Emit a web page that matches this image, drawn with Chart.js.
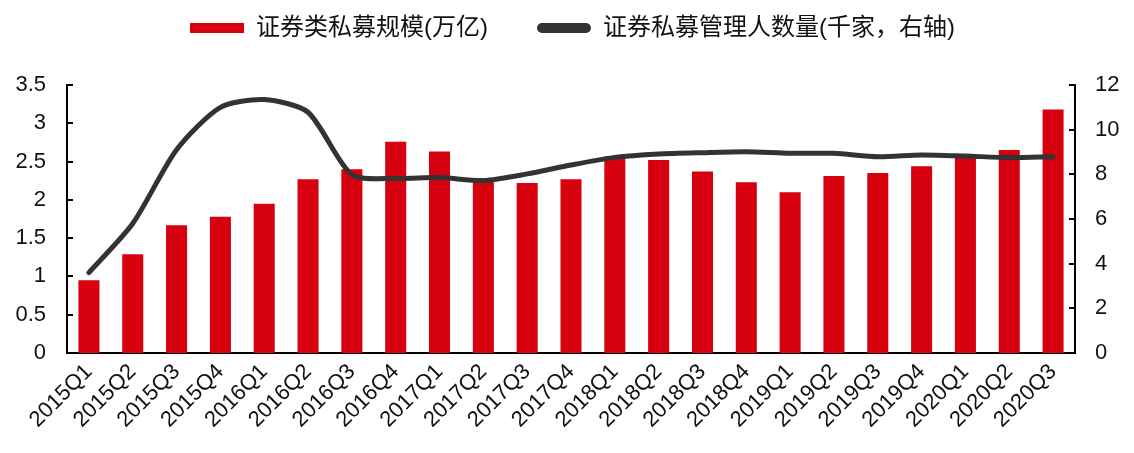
<!DOCTYPE html>
<html><head><meta charset="utf-8">
<script src="https://cdn.jsdelivr.net/npm/chart.js@4/dist/chart.umd.min.js"></script>
<style>html,body{margin:0;padding:0;background:#fff}#wrap{width:1134px;height:453px}</style>
</head><body><div id="wrap"><canvas id="c" width="1134" height="453"></canvas></div>
<script>
const categories = ['2015Q1','2015Q2','2015Q3','2015Q4','2016Q1','2016Q2','2016Q3','2016Q4','2017Q1','2017Q2','2017Q3','2017Q4','2018Q1','2018Q2','2018Q3','2018Q4','2019Q1','2019Q2','2019Q3','2019Q4','2020Q1','2020Q2','2020Q3'];
const scaleValues = [0.95,1.29,1.67,1.78,1.95,2.27,2.40,2.76,2.63,2.25,2.22,2.27,2.57,2.52,2.37,2.23,2.10,2.31,2.35,2.44,2.56,2.65,3.18];
const managerCounts = [3.6,5.8,9.1,11.0,11.35,10.78,7.98,7.82,7.86,7.72,8.02,8.42,8.76,8.91,8.97,9.01,8.94,8.94,8.79,8.87,8.82,8.75,8.79];
const seriesNames = ['证券类私募规模(万亿)','证券私募管理人数量(千家，右轴)'];
const seriesColors = ['#D7000F','#333333'];
const leftTickValues = [0,0.5,1,1.5,2,2.5,3,3.5];
const leftTickLabels = ['0','0.5','1','1.5','2','2.5','3','3.5'];
const rightTickValues = [0,2,4,6,8,10,12];
const rightTickLabels = ['0','2','4','6','8','10','12'];

const latin = "'Liberation Sans', Arial, sans-serif";
const cjk = "'Liberation Sans', 'Noto Sans CJK SC', sans-serif";

const tweak = {
  id: 'tweak',
  beforeUpdate(chart) {
    const lg = chart.legend;
    if (lg && !lg.__w) {
      const f = lg.fit;
      lg.fit = function () { f.apply(this, arguments); this.height = 85; };
      lg.__w = true;
    }
  },
  afterLayout(chart) {
    const lg = chart.legend;
    if (lg) { lg.left = 141; lg.top = -33; }
  },
  afterDraw(chart) {
    const ctx = chart.ctx;
    ctx.save();
    ctx.strokeStyle = '#000';
    ctx.lineWidth = 2;
    [['y', 1], ['y1', -1]].forEach(([id, dir]) => {
      const s = chart.scales[id];
      const x0 = dir > 0 ? s.right : s.left;
      s.ticks.forEach(t => {
        const y = Math.round(s.getPixelForValue(t.value));
        ctx.beginPath();
        ctx.moveTo(x0, y);
        ctx.lineTo(x0 + dir * 6, y);
        ctx.stroke();
      });
    });
    ctx.restore();
  }
};

new Chart(document.getElementById('c'), {
  type: 'bar',
  data: {
    labels: categories,
    datasets: [
      {
        type: 'bar', label: seriesNames[0], data: scaleValues, yAxisID: 'y',
        backgroundColor: seriesColors[0], barPercentage: 0.48, categoryPercentage: 1, order: 1
      },
      {
        type: 'line', label: seriesNames[1], data: managerCounts, yAxisID: 'y1',
        borderColor: seriesColors[1], backgroundColor: seriesColors[1], borderWidth: 5,
        pointRadius: 0, tension: 0.25, fill: false, borderCapStyle: 'round', borderJoinStyle: 'round', order: 0
      }
    ]
  },
  options: {
    responsive: false, animation: false, devicePixelRatio: 1,
    layout: { padding: 0 },
    plugins: {
      tooltip: { enabled: false },
      legend: {
        position: 'top', align: 'start',
        labels: {
          boxWidth: 54, boxHeight: 10, padding: 49, color: '#111',
          font: { size: 24, family: cjk },
          generateLabels(chart) {
            return chart.data.datasets.map((ds, i) => ({
              text: ds.label, fillStyle: seriesColors[i], strokeStyle: seriesColors[i],
              lineWidth: 0, hidden: false, datasetIndex: i, fontColor: '#111',
              borderRadius: i === 1 ? 5 : 0
            }));
          },
          useBorderRadius: true
        }
      }
    },
    scales: {
      x: {
        grid: { display: false, drawTicks: false },
        border: { display: true, color: '#000', width: 2 },
        ticks: { color: '#111', font: { size: 22, family: latin }, minRotation: 45, maxRotation: 45, autoSkip: false, padding: 6 },
        afterFit(s) { s.height = 100; }
      },
      y: {
        position: 'left', min: 0, max: 3.5,
        grid: { display: false, drawTicks: false },
        border: { display: true, color: '#000', width: 2 },
        afterBuildTicks(s) { s.ticks = leftTickValues.map(v => ({ value: v })); },
        ticks: { color: '#111', font: { size: 22, family: latin }, padding: 21,
          callback: v => leftTickLabels[leftTickValues.indexOf(v)] },
        afterFit(s) { s.width = 67; }
      },
      y1: {
        position: 'right', min: 0, max: 12,
        grid: { display: false, drawTicks: false },
        border: { display: true, color: '#000', width: 2 },
        afterBuildTicks(s) { s.ticks = rightTickValues.map(v => ({ value: v })); },
        ticks: { color: '#111', font: { size: 22, family: latin }, padding: 20,
          callback: v => rightTickLabels[rightTickValues.indexOf(v)] },
        afterFit(s) { s.width = 59; }
      }
    }
  },
  plugins: [tweak]
});
</script>
</body></html>
